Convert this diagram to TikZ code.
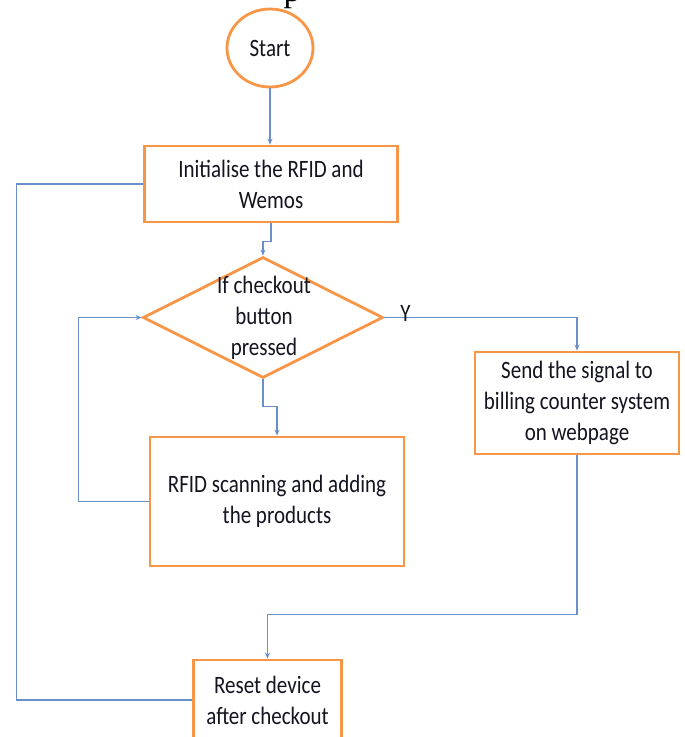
\documentclass[tikz,border=0pt]{standalone}
\usepackage{fontspec}
\setmainfont[FakeStretch=0.84]{Carlito}
\newfontfamily\capfont{Liberation Serif}
\usetikzlibrary{shapes.geometric,arrows.meta}
\definecolor{boxorange}{HTML}{F79646}
\definecolor{lineblue}{HTML}{6A8FC9}
\definecolor{txt}{HTML}{141420}
\tikzset{
  lbl/.style={font=\fontsize{25}{31}\selectfont, text=txt},
  procbox/.style={draw=boxorange, line width=2.8pt, fill=white, inner sep=0pt, align=center, lbl},
  conn/.style={draw=lineblue, line width=1.2pt},
  arr/.style={conn, -{Stealth[length=6pt,width=5pt]}},
}
\begin{document}
\begin{tikzpicture}[x=1pt,y=-1pt]
\useasboundingbox (0,0) rectangle (685,737);
\clip (0,0) rectangle (685,737);
\node[font=\capfont\fontsize{34}{34}\selectfont, anchor=base] (cap) at (292,1) {p};
\node[procbox, ellipse, minimum width=86pt, minimum height=78pt] (start) at (270,48) {Start};
\node[procbox, minimum width=253pt, minimum height=76pt] (init) at (271,184) {Initialise the RFID and\\Wemos};
\node[draw=boxorange, line width=2.8pt, diamond, minimum width=240pt, minimum height=121pt, inner sep=0pt] (dec) at (263,317.5) {};
\node[align=center, lbl] (dectext) at (264,318) {If checkout\\button\\pressed};
\node[procbox, minimum width=254pt, minimum height=129pt] (rfid) at (277,501.5) {RFID scanning and adding\\the products};
\node[procbox, minimum width=204pt, minimum height=102pt] (send) at (577,403) {Send the signal to\\billing counter system\\on webpage};
\node[procbox, minimum width=148pt, minimum height=80pt] (reset) at (267.5,700) {Reset device\\after checkout};
\draw[arr] (start.south) -- (start.south |- init.north);
\draw[arr] (init.south) -- ++(0,18) -| (dec.north);
\draw[arr] (dec.south) -- ++(0,27) -| (rfid.north);
\draw[arr] (rfid.west) -- ++(-70,0) |- (dec.west);
\draw[arr] (dec.east) -| node[pos=0.055, yshift=4pt, lbl] (ylab) {Y} (send.north);
\draw[arr] (send.south) -- ++(0,159) -| (reset.north);
\draw[conn] (reset.west) -- ++(-176,0) |- (init.west);
\end{tikzpicture}
\end{document}
